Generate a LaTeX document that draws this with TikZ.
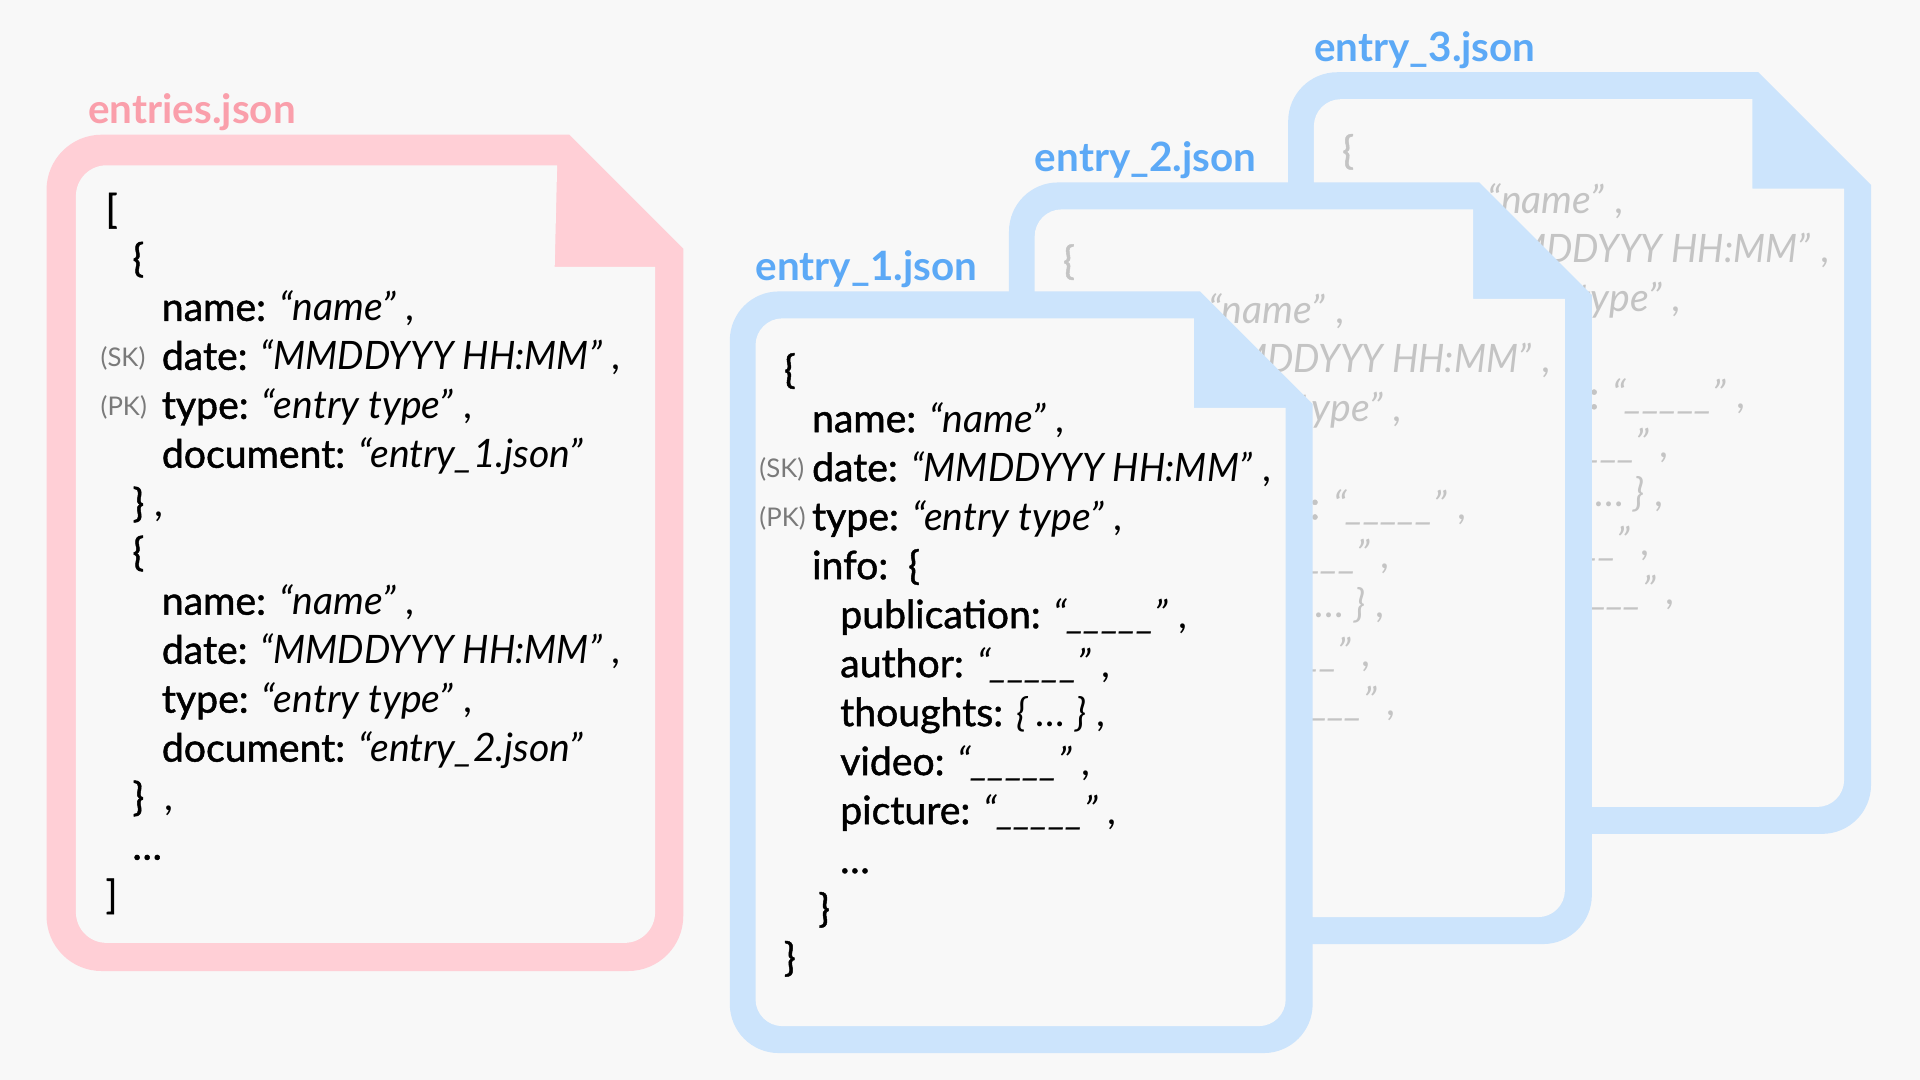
\documentclass[tikz,border=0pt]{standalone}
\usepackage{fontspec}
\setmainfont{Lato}
\newfontface\keyface{Lato}[FakeBold=1.2]
\newfontfamily\narrowfam{Lato}[FakeStretch=0.95]
\usepackage{xcolor}
\definecolor{bg}{HTML}{F8F8F8}
\definecolor{pinkframe}{HTML}{FFCFD6}
\definecolor{pinklabel}{HTML}{FA9FAB}
\definecolor{blueframe}{HTML}{CCE4FC}
\definecolor{bluelabel}{HTML}{5CA9F6}
\definecolor{tagcol}{HTML}{7A7A7A}
\definecolor{fadecol}{HTML}{C4C4C4}

\newcommand{\kw}[1]{{\keyface #1}}
\newcommand{\blankval}{\textit{“\_\_\_\_\_”}}
\newcommand{\dateval}{{\narrowfam\itshape “MMDDYYY HH:MM”}}

\newcommand{\entrydoc}[5]{%
\begin{scope}[shift={#2}]
\fill[blueframe] (1072,330) [rounded corners=40] -- (1072,860) -- (596,860) -- (596,238) [sharp corners] -- (980,238) -- cycle;
\fill[bg] (1050,333) [rounded corners=22] -- (1050,838) -- (617,838) -- (617,260) [sharp corners] -- (975,260) -- (975,333) -- cycle;
\node[title,text=bluelabel] (#1-title) at (617,229) {#5};
\node[txt,text=#3] (#1-open) at (640,313) {\kw{\{}};
\node[txt,text=#3] (#1-name) at (663,353) {\kw{name:} \textit{“name”} ,};
\node[tag,text=#4] (#1-sk) at (620,390) {(SK)};
\node[txt,text=#3] (#1-date) at (663,393) {\kw{date:} \dateval\ ,};
\node[tag,text=#4] (#1-pk) at (620,430) {(PK)};
\node[txt,text=#3] (#1-type) at (663,433) {\kw{type:} \textit{“entry type”} ,};
\node[txt,text=#3] (#1-info) at (663,473) {\kw{info:~~\{}};
\node[txt,text=#3] (#1-pub) at (686,513) {\kw{publication:} \blankval\ ,};
\node[txt,text=#3] (#1-author) at (686,553) {\kw{author:} \blankval\ ,};
\node[txt,text=#3] (#1-thoughts) at (686,593) {\kw{thoughts:} \textit{\{ … \}} ,};
\node[txt,text=#3] (#1-video) at (686,633) {\kw{video:} \blankval\ ,};
\node[txt,text=#3] (#1-picture) at (686,673) {\kw{picture:} \blankval\ ,};
\node[txt,text=#3] (#1-more) at (686,713) {\kw{…}};
\node[txt,text=#3] (#1-infoclose) at (668,753) {\kw{\}}};
\node[txt,text=#3] (#1-close) at (640,793) {\kw{\}}};
\end{scope}}

\begin{document}
\begin{tikzpicture}[x=1pt,y=-1pt,
  txt/.style={anchor=base west,inner sep=0pt,font=\fontsize{32}{38}\selectfont},
  tag/.style={anchor=base west,inner sep=0pt,font=\fontsize{21}{24}\selectfont},
  title/.style={anchor=base west,inner sep=0pt,font=\fontsize{33}{38}\selectfont\bfseries}]
\fill[bg] (0,0) rectangle (1568,882);
\useasboundingbox (0,0) rectangle (1568,882);

\fill[pinkframe] (558,203) [rounded corners=45] -- (558,793) -- (38,793) -- (38,110) [sharp corners] -- (465,110) -- cycle;
\fill[bg] (535,218) [rounded corners=25] -- (535,770) -- (62,770) -- (62,135) [sharp corners] -- (455,135) -- (453,218) -- cycle;
\node[title,text=pinklabel] (list-title) at (72,101) {entries.json};
\node[txt] (list-open) at (86,182) {\kw{[}};
\node[txt] (a-open) at (108,222) {\kw{\{}};
\node[txt] (a-name) at (132,262) {\kw{name:} \textit{“name”} ,};
\node[tag,text=tagcol] (a-sk) at (82,299) {(SK)};
\node[txt] (a-date) at (132,302) {\kw{date:} \dateval\ ,};
\node[tag,text=tagcol] (a-pk) at (82,339) {(PK)};
\node[txt] (a-type) at (132,342) {\kw{type:} \textit{“entry type”} ,};
\node[txt] (a-doc) at (132,382) {\kw{document:} \textit{“entry\_1.json”}};
\node[txt] (a-close) at (108,422) {\kw{\}} ,};
\node[txt] (b-open) at (108,462) {\kw{\{}};
\node[txt] (b-name) at (132,502) {\kw{name:} \textit{“name”} ,};
\node[txt] (b-date) at (132,542) {\kw{date:} \dateval\ ,};
\node[txt] (b-type) at (132,582) {\kw{type:} \textit{“entry type”} ,};
\node[txt] (b-doc) at (132,622) {\kw{document:} \textit{“entry\_2.json”}};
\node[txt] (b-close) at (108,662) {\kw{\}}~~,};
\node[txt] (list-more) at (108,702) {\kw{…}};
\node[txt] (list-close) at (86,742) {\kw{]}};

\entrydoc{e3}{(456,-179)}{fadecol}{fadecol}{entry\_3.json}
\entrydoc{e2}{(228,-89)}{fadecol}{fadecol}{entry\_2.json}
\entrydoc{e1}{(0,0)}{black}{tagcol}{entry\_1.json}
\end{tikzpicture}
\end{document}
